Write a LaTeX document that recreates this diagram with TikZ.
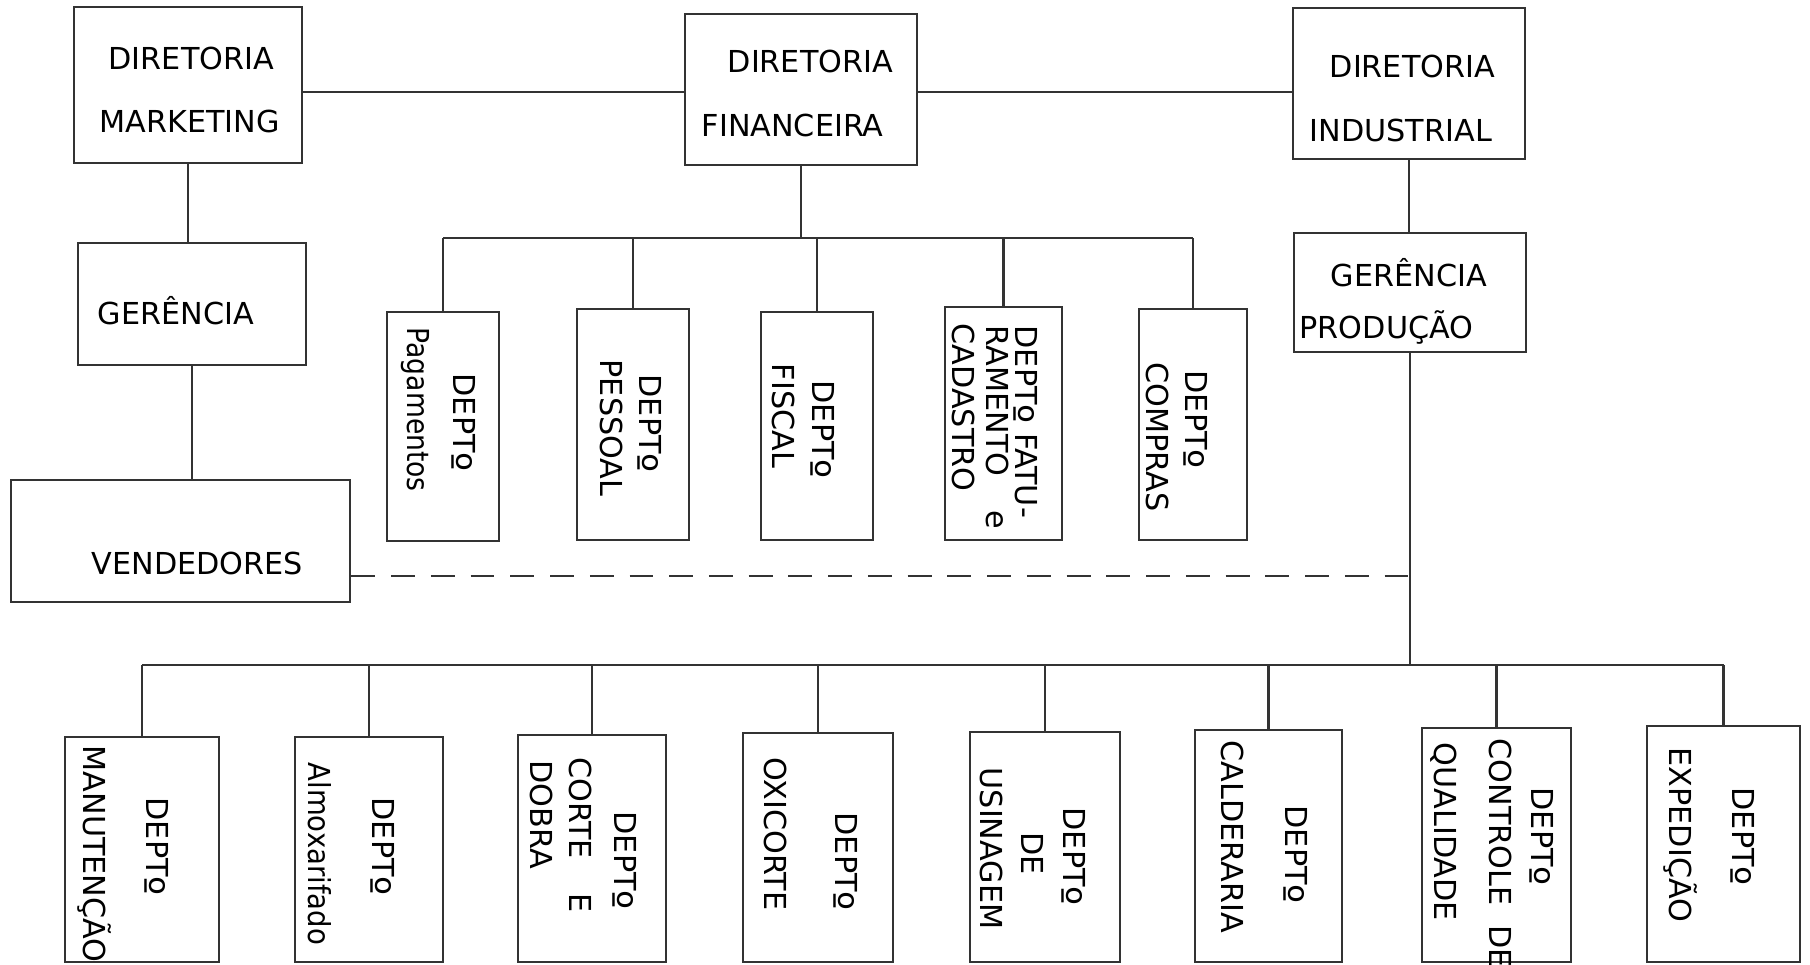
\documentclass[tikz,border=0pt]{standalone}
\usepackage{fontspec}
\setmainfont{DejaVu Sans}
\newcommand\ordm{\raisebox{-0.35em}{\fontsize{11.5}{12}\selectfont º}}
\begin{document}
\begin{tikzpicture}[x=0.01cm,y=-0.01cm,
  box/.style={draw=black!80, line width=0.7pt, rectangle, inner sep=0pt},
  lnk/.style={draw=black!80, line width=0.7pt},
  dlnk/.style={lnk, dash pattern=on 6.8pt off 4.5pt},
  lbl/.style={inner sep=0pt, anchor=base west, font=\fontsize{8.6}{10}\selectfont},
  vlbl/.style={lbl, rotate=-90}]
\useasboundingbox (0,0) rectangle (1810,965);

% top level
\node[box, minimum width=2.28cm, minimum height=1.56cm] (mk) at (188,85) {};
\node[box, minimum width=2.32cm, minimum height=1.51cm] (fin) at (801,89.5) {};
\node[box, minimum width=2.32cm, minimum height=1.51cm] (ind) at (1409,83.5) {};
\node[box, minimum width=2.28cm, minimum height=1.22cm] (gm) at (192,304) {};
\node[box, minimum width=3.39cm, minimum height=1.22cm] (ven) at (180.5,541) {};
\node[box, minimum width=2.32cm, minimum height=1.19cm] (gp) at (1410,292.5) {};

% financeira departments
\node[box, minimum width=1.12cm, minimum height=2.29cm] (pag) at (443,426.5) {};
\node[box, minimum width=1.12cm, minimum height=2.31cm] (pes) at (633,424.5) {};
\node[box, minimum width=1.12cm, minimum height=2.28cm] (fis) at (817,426) {};
\node[box, minimum width=1.17cm, minimum height=2.33cm] (fat) at (1003.5,423.5) {};
\node[box, minimum width=1.08cm, minimum height=2.31cm] (com) at (1193,424.5) {};

% production departments
\node[box, minimum width=1.54cm, minimum height=2.25cm] (man) at (142,849.5) {};
\node[box, minimum width=1.48cm, minimum height=2.25cm] (alm) at (369,849.5) {};
\node[box, minimum width=1.48cm, minimum height=2.27cm] (cor) at (592,848.5) {};
\node[box, minimum width=1.50cm, minimum height=2.29cm] (oxi) at (818,847.5) {};
\node[box, minimum width=1.50cm, minimum height=2.30cm] (usi) at (1045,847) {};
\node[box, minimum width=1.47cm, minimum height=2.32cm] (cal) at (1268.5,846) {};
\node[box, minimum width=1.49cm, minimum height=2.34cm] (cq) at (1496.5,845) {};
\node[box, minimum width=1.53cm, minimum height=2.36cm] (exp) at (1723.5,844) {};

% connectors
\coordinate (hl) at (500,92);
\coordinate (fbus) at (804,238);
\coordinate (pbus) at (1410,665);
\coordinate (dend) at (1410,576);

\draw[lnk] (mk.east |- hl) -- (fin.west |- hl);
\draw[lnk] (fin.east |- hl) -- (ind.west |- hl);
\draw[lnk] (mk.south) -- (gm.north -| mk.south);
\draw[lnk] (gm.south) -- (gm.south |- ven.north);
\draw[lnk] (fin.south) -- (fin.south |- fbus);
\draw[lnk] (pag.north |- fbus) -- (com.north |- fbus);
\foreach \n in {pag,pes,fis,fat,com} \draw[lnk] (\n.north) -- (\n.north |- fbus);
\draw[lnk] (ind.south) -- (ind.south |- gp.north);
\draw[lnk] (gp.south) -- (gp.south |- pbus);
\draw[lnk] (man.north |- pbus) -- (exp.north |- pbus);
\foreach \n in {man,alm,cor,oxi,usi,cal,cq,exp} \draw[lnk] (\n.north) -- (\n.north |- pbus);
\draw[dlnk] (ven.east |- dend) -- (dend);

% horizontal labels
\node[lbl] (t1) at (108,70) {DIRETORIA};
\node[lbl] (t2) at (99,133) {MARKETING};
\node[lbl] (t3) at (727,73) {DIRETORIA};
\node[lbl] (t4) at (701,137) {FINANCEIRA};
\node[lbl] (t5) at (1329,78) {DIRETORIA};
\node[lbl] (t6) at (1309,142) {INDUSTRIAL};
\node[lbl] (t7) at (97,325) {GERÊNCIA};
\node[lbl] (t8) at (1330,287) {GERÊNCIA};
\node[lbl] (t9) at (1299,339) {PRODUÇÃO};
\node[lbl] (t10) at (91,575) {VENDEDORES};

% vertical labels: financeira
\node[vlbl] (pag1) at (453,373) {DEPT\ordm};
\node[vlbl] (pag2) at (407,327) {\scalebox{0.88}[1]{Pagamentos}};
\node[vlbl] (pes1) at (639,374) {DEPT\ordm};
\node[vlbl] (pes2) at (600,359) {PESSOAL};
\node[vlbl] (fis1) at (812,380) {DEPT\ordm};
\node[vlbl] (fis2) at (772,363) {FISCAL};
\node[vlbl] (fat1) at (1015,325) {DEPT\ordm{} FATU-};
\node[vlbl] (fat2) at (986,325) {RAMENTO};
\node[vlbl] (fat3) at (986,510) {e};
\node[vlbl] (fat4) at (952,323) {CADASTRO};
\node[vlbl] (com1) at (1185,370) {DEPT\ordm};
\node[vlbl] (com2) at (1146,362) {COMPRAS};

% vertical labels: production
\node[vlbl] (man1) at (146,797) {DEPT\ordm};
\node[vlbl] (man2) at (83,745) {MANUTENÇÃO};
\node[vlbl] (alm1) at (372,797) {DEPT\ordm};
\node[vlbl] (alm2) at (308,762) {\scalebox{0.91}[1]{Almoxarifado}};
\node[vlbl] (cor1) at (614,811) {DEPT\ordm};
\node[vlbl] (cor2) at (569,757) {CORTE};
\node[vlbl] (cor3) at (569,893) {E};
\node[vlbl] (cor4) at (530,760) {DOBRA};
\node[vlbl] (oxi1) at (835,812) {DEPT\ordm};
\node[vlbl] (oxi2) at (764,757) {OXICORTE};
\node[vlbl] (usi1) at (1063,807) {DEPT\ordm};
\node[vlbl] (usi2) at (1021,832) {DE};
\node[vlbl] (usi3) at (980,767) {USINAGEM};
\node[vlbl] (cal1) at (1285,805) {DEPT\ordm};
\node[vlbl] (cal2) at (1221,740) {CALDERARIA};
\node[vlbl] (cq1) at (1531,787) {DEPT\ordm};
\node[vlbl] (cq2) at (1489,738) {CONTROLE};
\node[vlbl] (cq3) at (1489,925) {DE};
\node[vlbl] (cq4) at (1434,742) {QUALIDADE};
\node[vlbl] (exp1) at (1732,787) {DEPT\ordm};
\node[vlbl] (exp2) at (1669,747) {EXPEDIÇÃO};
\end{tikzpicture}
\end{document}
